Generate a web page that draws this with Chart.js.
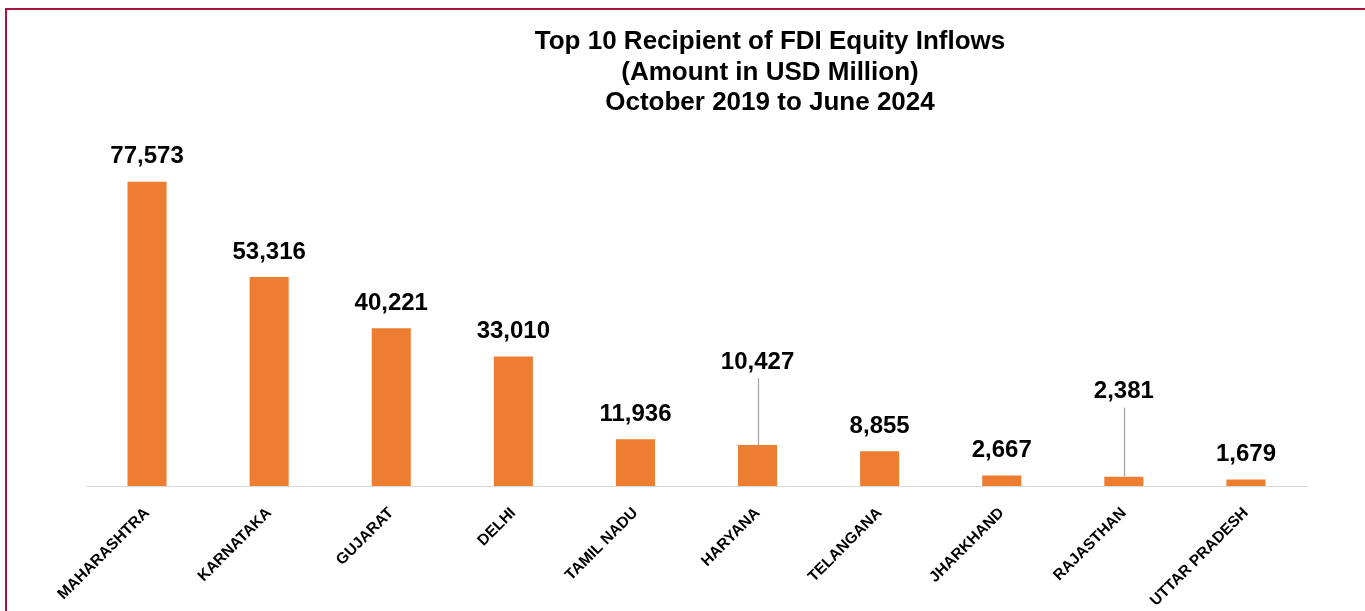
<!DOCTYPE html>
<html>
<head>
<meta charset="utf-8">
<title>Top 10 Recipient of FDI Equity Inflows</title>
<script src="https://cdn.jsdelivr.net/npm/chart.js@4.4.1/dist/chart.umd.min.js"></script>
<style>
  body { margin: 0; background: #fff; overflow: hidden; }
  #wrap { position: relative; width: 1365px; height: 611px; }
  #frame {
    position: absolute; left: 5px; top: 8px; width: 1400px; height: 700px;
    border-left: 2px solid #a8123f; border-top: 2px solid #a8123f;
  }
  #chartTitle {
    position: absolute; left: 470px; top: 25px; width: 600px;
    text-align: center; font: bold 26px "Liberation Sans", Arial, sans-serif;
    line-height: 30.5px; color: #000;
  }
  #projChart { position: absolute; left: 0; top: 0; }
</style>
</head>
<body>
<div id="wrap">
  <div id="frame"></div>
  <canvas id="projChart" width="1365" height="611"></canvas>
  <div id="chartTitle">Top 10 Recipient of FDI Equity Inflows<br>(Amount in USD Million)<br>October 2019 to June 2024</div>
</div>
<script>
var states = ["MAHARASHTRA", "KARNATAKA", "GUJARAT", "DELHI", "TAMIL NADU",
              "HARYANA", "TELANGANA", "JHARKHAND", "RAJASTHAN", "UTTAR PRADESH"];
var inflows = [77573, 53316, 40221, 33010, 11936, 10427, 8855, 2667, 2381, 1679];
var yMax = 90000;

// value labels above the bars, a couple of them pulled up with a leader line
var valueLabels = {
  id: 'valueLabels',
  afterDatasetsDraw(chart, args, opts) {
    var ctx = chart.ctx;
    var meta = chart.getDatasetMeta(0);
    ctx.save();
    ctx.font = opts.font;
    ctx.fillStyle = '#000';
    ctx.textAlign = 'center';
    ctx.textBaseline = 'middle';
    meta.data.forEach((bar, i) => {
      var lift = opts.leaders[i] || opts.lift;
      var y = bar.y - lift;
      if (opts.leaders[i]) {
        ctx.strokeStyle = '#a6a6a6';
        ctx.lineWidth = 1.3;
        ctx.beginPath();
        ctx.moveTo(Math.round(bar.x) + 0.5, y + 16);
        ctx.lineTo(Math.round(bar.x) + 0.5, bar.y);
        ctx.stroke();
      }
      ctx.fillText(inflows[i].toLocaleString('en-US'), bar.x, y);
    });
    ctx.restore();
  }
};

var ctxProjChart = document.getElementById('projChart').getContext('2d');

var myChart = new Chart(ctxProjChart, {
  type: 'bar',
  data: {
    labels: states,
    datasets: [{
      label: 'FDI Equity Inflows',
      data: inflows,
      backgroundColor: '#ed7d31',
      borderWidth: 0,
      barPercentage: 0.32,
      categoryPercentage: 1
    }]
  },
  options: {
    responsive: false,
    animation: false,
    layout: { padding: { left: 86, right: 58, top: 133, bottom: 0 } },
    plugins: {
      legend: { display: false },
      tooltip: { enabled: false },
      valueLabels: {
        font: 'bold 24px "Liberation Sans", Arial, sans-serif',
        lift: 25,
        leaders: { 5: 83, 8: 85 }
      }
    },
    scales: {
      x: {
        grid: { display: false },
        border: { display: true, color: '#d9d9d9', width: 1 },
        ticks: {
          color: '#000',
          font: { family: '"Liberation Sans", Arial, sans-serif', size: 15.5, weight: 'bold' },
          maxRotation: 45,
          minRotation: 45,
          padding: 10
        },
        afterFit: (axis) => { axis.height = 125; }
      },
      y: {
        display: false,
        min: 0,
        max: yMax
      }
    }
  },
  plugins: [valueLabels]
});
</script>
</body>
</html>
